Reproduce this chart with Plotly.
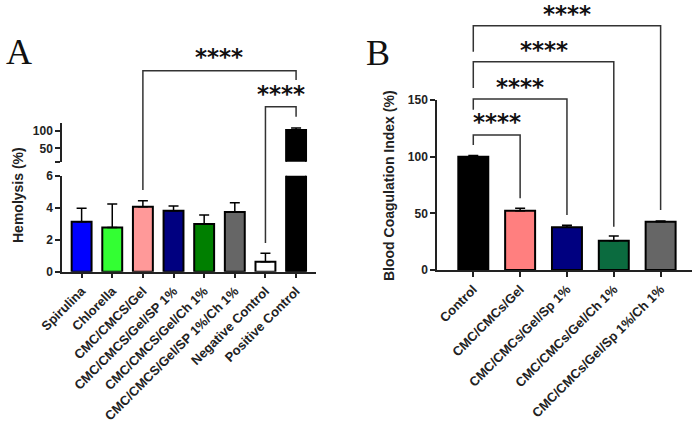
import plotly.graph_objects as go

# ---------------- data ----------------
cats_a = ["Spirulina", "Chlorella", "CMC/CMCS/Gel", "CMC/CMCS/Gel/SP 1%",
          "CMC/CMCS/Gel/Ch 1%", "CMC/CMCS/Gel/SP 1%/Ch 1%",
          "Negative Control", "Positive Control"]
hemolysis = [3.12, 2.77, 4.06, 3.81, 2.98, 3.73, 0.62, 102]
hemolysis_err = [0.85, 1.46, 0.38, 0.30, 0.56, 0.58, 0.53, 6]
colors_a = ["#0000FF", "#33FF33", "#FF9999", "#000080", "#007F00",
            "#666666", "#FFFFFF", "#000000"]

cats_b = ["Control", "CMC/CMCs/Gel", "CMC/CMCs/Gel/Sp 1%",
          "CMC/CMCs/Gel/Ch 1%", "CMC/CMCs/Gel/Sp 1%/Ch 1%"]
bci = [100, 52.3, 37.7, 25.9, 42.6]
bci_err = [1.0, 2.1, 1.7, 4.1, 0.6]
colors_b = ["#000000", "#FF7F7F", "#000080", "#0B6B3F", "#666666"]

sig_label = "****"

# ---------------- styling ----------------
W, H = 694, 426
AX = "#222222"
TF = dict(family="Liberation Sans, Arial", size=12, color="#222222", weight="bold")
XTF = dict(family="Liberation Sans, Arial", size=13, color="#222222", weight="bold")

def px_x(p):
    return p / W

def px_y(p):
    return 1 - p / H

fig = go.Figure()

err_style = dict(type="data", symmetric=False, color="black", thickness=1.5, width=5)

# Panel A: lower and upper (broken) axes
for ya in ["y", "y2"]:
    fig.add_trace(go.Bar(
        x=cats_a, y=hemolysis, xaxis="x", yaxis=ya, width=0.65,
        marker=dict(color=colors_a, line=dict(color="black", width=2)),
        error_y=dict(array=hemolysis_err, arrayminus=[0] * len(cats_a), **err_style),
        showlegend=False, hoverinfo="x+y"))

# Panel B
fig.add_trace(go.Bar(
    x=cats_b, y=bci, xaxis="x2", yaxis="y3", width=0.64,
    marker=dict(color=colors_b, line=dict(color="black", width=2)),
    error_y=dict(array=bci_err, arrayminus=[0] * len(cats_b), **err_style),
    showlegend=False, hoverinfo="x+y"))

# invisible overlay subplots used for significance brackets
fig.add_trace(go.Scatter(x=[], y=[], xaxis="x", yaxis="y4", showlegend=False, hoverinfo="skip"))
fig.add_trace(go.Scatter(x=[], y=[], xaxis="x2", yaxis="y5", showlegend=False, hoverinfo="skip"))

axis_common = dict(showline=True, linecolor=AX, linewidth=1.5, ticks="outside",
                   ticklen=5, tickwidth=1.5, tickcolor=AX, showgrid=False,
                   zeroline=False, automargin=False)

yA_lo = (271.7, 175.7)
yA_hi = (161.7, 123.3)
yB = (270, 100)

fig.update_layout(
    width=W, height=H, margin=dict(l=0, r=0, t=0, b=0, autoexpand=False),
    paper_bgcolor="white", plot_bgcolor="rgba(0,0,0,0)",
    barmode="overlay",
    xaxis=dict(domain=[px_x(62), px_x(316)], range=[-0.64, 7.65], anchor="y",
               tickangle=-45, type="category", tickfont=XTF, **axis_common),
    yaxis=dict(domain=[px_y(yA_lo[0]), px_y(yA_lo[1])], range=[0, 6],
               tickvals=[0, 2, 4, 6], anchor="x", tickfont=TF, **axis_common),
    yaxis2=dict(domain=[px_y(yA_hi[0]), px_y(yA_hi[1])], range=[12, 121],
                tickvals=[12, 50, 100], ticktext=["", "50", "100"], anchor="x",
                tickfont=TF, **axis_common),
    xaxis2=dict(domain=[px_x(437), px_x(692)], range=[-0.775, 4.67], anchor="y3",
                tickangle=-45, type="category", tickfont=XTF, **axis_common),
    yaxis3=dict(domain=[px_y(yB[0]), px_y(yB[1])], range=[0, 150],
                tickvals=[0, 50, 100, 150], anchor="x2", tickfont=TF, **axis_common),
    yaxis4=dict(domain=[px_y(yA_lo[0]), 1], range=[0, yA_lo[0] / 16.0],
                anchor="x", visible=False, automargin=False),
    yaxis5=dict(domain=[px_y(yB[0]), 1], range=[0, yB[0] / (170 / 150)],
                anchor="x2", visible=False, automargin=False),
)

# significance brackets: (xref, yref, left cat, right cat, y, left bottom, right bottom, star y)
brackets = [
    ("x", "y4", cats_a[2], cats_a[7], 12.56, 5.1, 11.98, 13.44),
    ("x", "y4", cats_a[6], cats_a[7], 10.31, 1.79, 9.69, 11.1),
    ("x2", "y5", cats_b[0], cats_b[1], 119.1, 110.3, 63.3, 130.9),
    ("x2", "y5", cats_b[0], cats_b[2], 150.9, 141.5, 48.5, 161.7),
    ("x2", "y5", cats_b[0], cats_b[3], 183.8, 160.6, 38.2, 194.1),
    ("x2", "y5", cats_b[0], cats_b[4], 215.6, 192.6, 52.9, 225.9),
]
cat_index = {**{c: i for i, c in enumerate(cats_a)}, **{c: i for i, c in enumerate(cats_b)}}
for xr, yr, c0, c1, yh, yl, yrb, ys in brackets:
    i0, i1 = cat_index[c0], cat_index[c1]
    fig.add_shape(type="path", xref=xr, yref=yr,
                  path=f"M {i0},{yl} L {i0},{yh} L {i1},{yh} L {i1},{yrb}",
                  line=dict(color="#333333", width=1.5))
    fig.add_annotation(x=(i0 + i1) / 2, y=ys, xref=xr, yref=yr, text=sig_label,
                       showarrow=False, yanchor="middle",
                       font=dict(family="DejaVu Sans", size=23, color="#111111", weight="bold"))

# axis titles
title_font = dict(family="Liberation Sans, Arial", size=14, color="#222222", weight="bold")
fig.add_annotation(x=px_x(18), y=px_y(195), xref="paper", yref="paper",
                   xanchor="center", yanchor="middle",
                   text="Hemolysis (%)", textangle=-90, showarrow=False, font=title_font)
fig.add_annotation(x=px_x(389), y=px_y(185), xref="paper", yref="paper",
                   xanchor="center", yanchor="middle",
                   text="Blood Coagulation Index (%)", textangle=-90, showarrow=False,
                   font=title_font)

# panel letters
letter_font = dict(family="Liberation Serif, Times New Roman", size=36, color="#111111")
fig.add_annotation(x=px_x(19), y=px_y(52), xref="paper", yref="paper", text="A",
                   xanchor="center", yanchor="middle",
                   showarrow=False, font=letter_font)
fig.add_annotation(x=px_x(377.5), y=px_y(53), xref="paper", yref="paper", text="B",
                   xanchor="center", yanchor="middle",
                   showarrow=False, font=letter_font)

fig.write_html("out.html")
